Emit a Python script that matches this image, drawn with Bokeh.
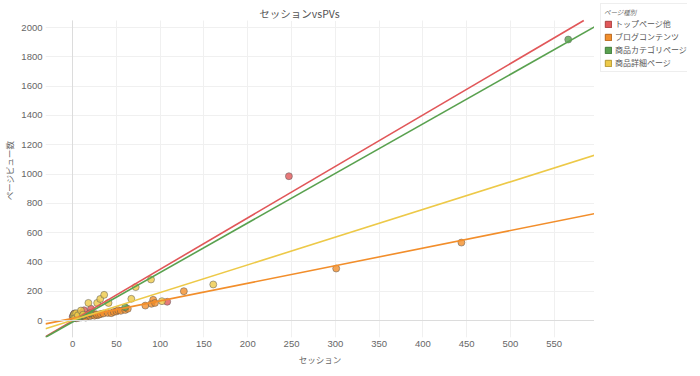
from bokeh.plotting import figure
from bokeh.layouts import row
from bokeh.models import Range1d, Legend, LegendItem, Span, FixedTicker, Label, Grid
from bokeh.embed import file_html
from bokeh.resources import INLINE

# ---------------- data ----------------
series_names = ["トップページ他", "ブログコンテンツ", "商品カテゴリページ", "商品詳細ページ"]
series_colors = ["#e15759", "#f28e2b", "#59a14f", "#edc948"]
edge_colors = ["#a8403f", "#b5651c", "#3f7a38", "#b39630"]

top_sessions = [0, 1, 1, 2, 2, 3, 3, 4, 5, 6, 8, 10, 13, 21, 108, 247]
top_pv = [25, 40, 15, 35, 48, 30, 45, 20, 38, 42, 30, 50, 70, 80, 128, 985]

blog_sessions = [2, 4, 5, 7, 8, 10, 12, 14, 15, 17, 18, 20, 22, 24, 25, 27, 28, 30,
                 32, 35, 40, 44, 47, 50, 52, 55, 60, 63, 83, 90, 92, 94, 127, 301, 444]
blog_pv = [20, 15, 25, 18, 30, 22, 28, 35, 20, 32, 40, 30, 38, 45, 33, 42, 36, 40,
           44, 48, 52, 50, 58, 62, 70, 66, 72, 80, 102, 114, 141, 120, 200, 355, 532]

cat_sessions = [1, 3, 5, 8, 12, 20, 60, 566]
cat_pv = [30, 20, 40, 25, 35, 50, 90, 1918]

detail_sessions = [1, 2, 3, 4, 6, 9.5, 12, 18, 28, 31.5, 36, 41, 67, 72, 89.5, 102, 160.6]
detail_pv = [30, 45, 20, 50, 35, 68, 40, 120, 120, 147, 175, 120, 148, 228, 280, 132, 246]

# trend line coefficients (pv = slope * sessions + intercept)
trend_slope = [3.51, 1.20, 3.38, 1.89]
trend_intercept = [-1, 14, -10, 2]

x_ticks = [0, 50, 100, 150, 200, 250, 300, 350, 400, 450, 500, 550]
y_ticks = [0, 200, 400, 600, 800, 1000, 1200, 1400, 1600, 1800, 2000]

x_min, x_max = -31, 596
y_min, y_max = -116, 2164
grid_top = 2048

# ---------------- main figure ----------------
JP = "Noto Sans CJK JP"
p = figure(frame_width=549, frame_height=334, output_backend="svg", toolbar_location=None,
           title=None, x_range=Range1d(x_min, x_max), y_range=Range1d(y_min, y_max),
           min_border_left=43, min_border_right=0, min_border_top=3, min_border_bottom=31)
p.outline_line_color = None
p.background_fill_color = "white"
p.border_fill_color = "white"

for ax in (p.xaxis[0], p.yaxis[0]):
    ax.axis_line_color = None
    ax.major_tick_line_color = None
    ax.minor_tick_line_color = None
    ax.major_tick_out = 0
    ax.major_tick_in = 0
    ax.minor_tick_out = 0
    ax.minor_tick_in = 0
    ax.major_label_text_font = "Liberation Sans"
    ax.major_label_text_font_size = "9.5px"
    ax.major_label_text_color = "#666666"
    ax.major_label_standoff = 3
    ax.axis_label_text_font = JP
    ax.axis_label_text_font_size = "8.5px"
    ax.axis_label_text_font_style = "normal"
    ax.axis_label_text_color = "#666666"
    ax.axis_label_standoff = 3

p.xaxis.ticker = FixedTicker(ticks=x_ticks)
p.yaxis.ticker = FixedTicker(ticks=y_ticks)
p.xaxis.axis_label = "セッション"
p.yaxis.axis_label = "ページビュー数"

p.xgrid.grid_line_color = "#f0f0f0"
p.ygrid.grid_line_color = "#f0f0f0"
p.xgrid.ticker = FixedTicker(ticks=x_ticks)
p.ygrid.ticker = FixedTicker(ticks=y_ticks)
try:
    p.xgrid.cross_bounds = (y_min, grid_top)
except Exception:
    pass

p.add_layout(Span(location=0, dimension="width", line_color="#dcdcdc", line_width=1))
zg = Grid(dimension=0, ticker=FixedTicker(ticks=[0]), grid_line_color="#dcdcdc")
try:
    zg.cross_bounds = (y_min, grid_top)
except Exception:
    pass
p.add_layout(zg)

xs_all = [top_sessions, blog_sessions, cat_sessions, detail_sessions]
ys_all = [top_pv, blog_pv, cat_pv, detail_pv]

for xs, ys, c in zip(xs_all, ys_all, series_colors):
    p.scatter(xs, ys, size=7, fill_color=c, fill_alpha=0.8,
              line_color="#555555", line_alpha=0.7, line_width=0.7)

for s, b, c in zip(trend_slope, trend_intercept, series_colors):
    x_end = min(x_max, (grid_top - b) / s)
    lx = [x_min, x_end]
    ly = [s * v + b for v in lx]
    p.line(lx, ly, line_color=c, line_width=1.6)

# chart title (drawn in the top strip of the plot area)
p.add_layout(Label(x=254, y=324, x_units="screen", y_units="screen",
                   text="セッションvsPVs", text_font=JP, text_font_size="10.5px",
                   text_color="#555555", text_align="center", text_baseline="middle",
                   background_fill_color="white"))

# ---------------- legend panel ----------------
lg = figure(frame_width=87, frame_height=334, output_backend="svg", toolbar_location=None,
            title=None, x_range=Range1d(0, 1), y_range=Range1d(0, 1),
            min_border_left=6, min_border_right=0, min_border_top=3, min_border_bottom=31)
lg.axis.visible = False
lg.grid.visible = False
lg.outline_line_color = None
lg.border_fill_color = "white"

nan = float("nan")
items = []
for name, c, ec in zip(series_names, series_colors, edge_colors):
    r = lg.quad(left=[nan], right=[nan], top=[nan], bottom=[nan],
                fill_color=c, line_color=ec, line_width=1)
    items.append(LegendItem(label=name, renderers=[r]))

legend = Legend(items=items, location="top_left",
                title="ページ種別", title_text_font=JP, title_text_font_size="6.5px",
                title_text_color="#666666", title_standoff=1,
                label_text_font=JP, label_text_font_size="8px", label_text_color="#555555",
                label_height=9, label_standoff=3, glyph_width=8, glyph_height=8,
                spacing=2, padding=3, margin=0,
                border_line_color="#dddddd", border_line_width=1,
                background_fill_color="white", background_fill_alpha=1)
lg.add_layout(legend, "center")

layout = row(p, lg)
open("out.html", "w").write(file_html(layout, INLINE))
